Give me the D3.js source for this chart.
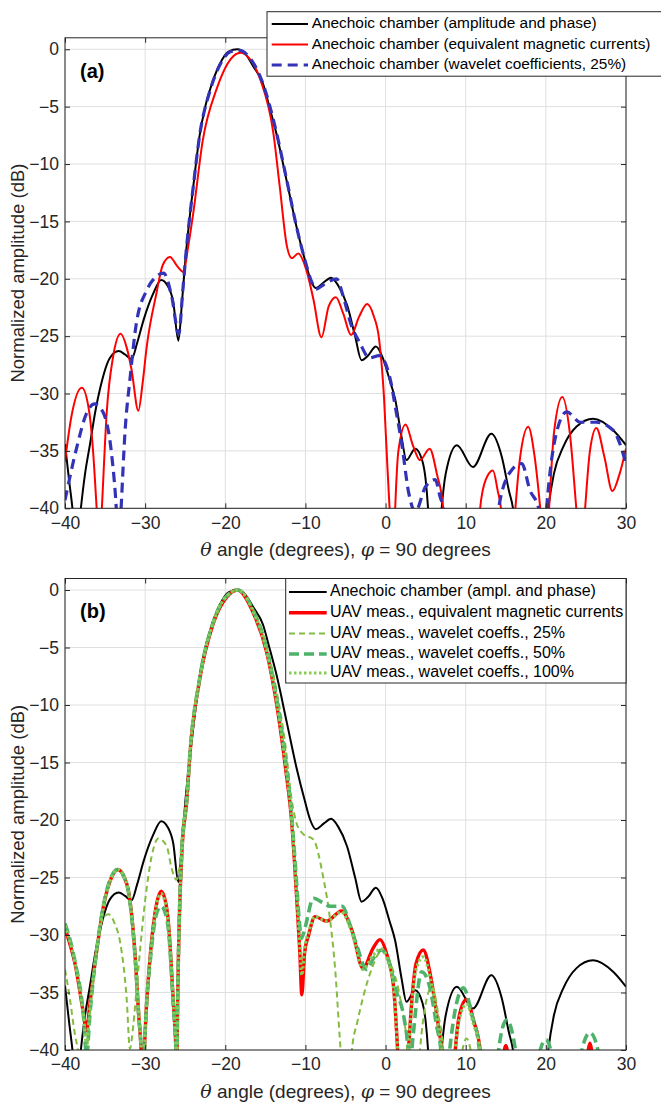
<!DOCTYPE html>
<html>
<head>
<meta charset="utf-8">
<script src="https://cdn.jsdelivr.net/npm/d3@7"></script>
<style>
  body { margin: 0; background: white; }
  svg { display: block; font-family: "Liberation Sans", Arial, sans-serif; }
</style>
</head>
<body>
<script>
// tick labels
var xTicks = [-40, -30, -20, -10, 0, 10, 20, 30]
var yTicks = [0, -5, -10, -15, -20, -25, -30, -35, -40]

// anechoic chamber, amplitude and phase (same curve in both panels)
var chamberAP = [[-40,-34.4],[-39.5,-37.5],[-39.0,-40.5],[-38.6,-44],[-38.1,-40.5],[-37.5,-37],[-36.9,-34.5],
  [-36.2,-31.5],[-35.6,-29.5],[-34.4,-26.9],[-33.3,-26.3],[-32.5,-26.6],[-31.7,-27.0],[-31.0,-25.6],[-30.2,-23.6],
  [-29.0,-21.3],[-28.0,-20.1],[-27.2,-20.6],[-26.5,-22.0],[-25.85,-25.4],[-25.4,-22],[-25.0,-18.5],[-24.5,-15],
  [-24.0,-12.0],[-23.2,-7.5],[-22.5,-5.0],[-21.9,-3.5],[-20.7,-1.3],[-19.6,-0.2],[-18.5,0],[-17.5,-0.4],
  [-16.5,-1.5],[-15.3,-3.0],[-14.5,-5.0],[-13.6,-7.4],[-12.3,-11.6],[-11.1,-15.5],[-10.05,-18.4],[-9.4,-20.0],
  [-8.7,-20.8],[-7.7,-20.3],[-6.8,-19.9],[-5.9,-20.6],[-4.8,-22.3],[-3.8,-25.0],[-3.0,-27.1],[-2.2,-26.7],
  [-1.2,-25.9],[-0.4,-26.8],[0.5,-28.8],[1.2,-30.5],[2.0,-33.8],[2.6,-35.8],[3.7,-34.8],[4.6,-35.9],[5.0,-37.5],
  [5.3,-40],[5.6,-44],[6.6,-44],[7.0,-40],[7.5,-37],[8.9,-34.5],[10.9,-36.4],[13.2,-33.5],[14.5,-35.5],
  [15.4,-38.5],[15.9,-40],[16.5,-44],[19.7,-44],[20.3,-40],[21.0,-37],[22.2,-34.6],[23.8,-32.9],[25.9,-32.2],
  [28.4,-33.2],[30,-34.5]]

// anechoic chamber, equivalent magnetic currents
var chamberEMC = [[-40,-35.9],[-39.2,-32],[-37.9,-29.5],[-37.0,-31.5],[-36.5,-35],[-36.05,-40],[-35.7,-44],
  [-35.4,-40],[-34.8,-31.7],[-34.0,-26.8],[-33.05,-24.8],[-32.3,-26.0],[-31.7,-27.9],[-30.85,-31.5],[-30.3,-29],
  [-29.8,-25.9],[-28.6,-21.3],[-27.8,-18.8],[-26.9,-18.1],[-26.0,-18.9],[-25.2,-19.4],[-24.7,-17.5],[-24.0,-14.3],
  [-22.8,-7.9],[-21.1,-3.5],[-19.0,-0.6],[-18.1,-0.3],[-17,-0.8],[-15.6,-2.7],[-14.0,-7.3],[-13.2,-12.0],
  [-12.3,-17.2],[-11.7,-18.2],[-10.9,-17.8],[-9.9,-19.2],[-9.0,-21.8],[-8.0,-25.1],[-7.1,-22.4],[-6.2,-21.6],
  [-5.3,-23.0],[-4.3,-24.9],[-3.3,-23.3],[-2.3,-22.2],[-1.5,-23.2],[-0.8,-25.3],[-0.2,-30.3],[0.2,-36],[0.5,-40],
  [0.8,-44],[1.0,-44],[1.2,-40],[1.6,-35],[2.5,-32.7],[3.4,-34.5],[4.3,-35.8],[5.5,-34.8],[6.4,-37],[7.2,-40],
  [7.6,-44],[11.4,-44],[11.8,-40],[12.5,-37.5],[13.4,-36.7],[14.0,-38.5],[14.4,-40],[14.8,-44],[15.8,-44],
  [16.2,-40],[16.8,-35.5],[17.8,-32.9],[18.6,-35.5],[19.3,-40],[19.8,-44],[20.0,-44],[20.4,-40],[21.0,-33.5],
  [22.05,-30.3],[23.0,-33.5],[23.8,-40],[24.3,-44],[24.5,-44],[24.9,-40],[25.5,-35],[26.3,-33.0],[27.3,-35.5],
  [28.3,-38.5],[29.2,-37],[30,-34.8]]

// anechoic chamber, wavelet coefficients 25%
var chamberWav = [[-40,-39.3],[-38.5,-34.6],[-37.3,-31.7],[-36.3,-30.9],[-35.2,-31.7],[-34.2,-35.2],[-33.6,-40],
  [-33.3,-44],[-33.0,-40],[-32.5,-33.2],[-31.9,-28.8],[-31.1,-23.9],[-29.8,-21.0],[-28.6,-19.8],[-27.7,-19.5],
  [-26.7,-21.5],[-25.8,-24.8],[-25.3,-21],[-24.8,-17],[-24.0,-12.0],[-23.2,-7.5],[-21.9,-3.6],[-20.7,-1.4],
  [-19.3,-0.2],[-18.2,-0.1],[-17.0,-0.7],[-15.3,-3.0],[-13.6,-7.3],[-12.3,-11.5],[-11.1,-15.5],[-10.05,-18.4],
  [-9.2,-20.3],[-8.7,-20.9],[-7.7,-20.5],[-6.1,-20.0],[-5.3,-21.5],[-4.3,-24.0],[-3.2,-25.6],[-2.0,-26.9],
  [-0.8,-26.7],[0.6,-28.8],[1.2,-31.1],[2.0,-34.3],[2.9,-38.7],[3.7,-40.3],[5.0,-38.1],[6.2,-37.5],[6.8,-39],
  [7.2,-40],[7.6,-44],[13.6,-44],[14.1,-40],[15.7,-36.7],[17.0,-36.1],[18.0,-38.4],[19.1,-40],[19.5,-44],
  [19.7,-44],[20.1,-40],[21.4,-33.2],[22.6,-31.6],[24.3,-32.5],[26.3,-32.5],[28.4,-33.2],[30,-36.1]]

// UAV measurement, equivalent magnetic currents
var uavEMC = [[-40,-29.4],[-39.3,-31],[-38.75,-32.5],[-37.7,-36.8],[-37.3,-38.3],[-36.9,-36],[-36.05,-31.4],
  [-35.2,-27.5],[-34.2,-25.0],[-33.4,-24.3],[-32.6,-25.0],[-32.1,-26.1],[-31.3,-31.3],[-30.8,-37],[-30.5,-40],
  [-30.3,-44],[-30.1,-40],[-29.9,-37],[-29.3,-31.3],[-28.6,-27.4],[-28.0,-26.2],[-27.4,-27.3],[-27.1,-28.9],
  [-26.5,-35.6],[-26.15,-40],[-26.05,-42],[-25.95,-36],[-25.85,-32],[-25.4,-22.6],[-24.8,-18.3],[-24.4,-14.2],
  [-23.2,-7.8],[-21.5,-2.9],[-19.8,-0.6],[-18.5,0],[-16.5,-2.0],[-14.8,-5.5],[-13.6,-9.9],[-12.5,-15.4],
  [-11.7,-20.3],[-11.1,-26.7],[-10.7,-31.5],[-10.45,-35.2],[-10.1,-31.5],[-9.6,-30.0],[-8.8,-28.4],[-7.35,-28.8],
  [-5.5,-27.9],[-4.2,-29.6],[-2.8,-32.9],[-1.6,-31.2],[-0.7,-30.4],[0.2,-31.8],[1.0,-34.5],[1.3,-37.5],[1.5,-40],
  [1.9,-44],[2.4,-44],[2.85,-40],[3.3,-35.5],[3.8,-32.5],[4.7,-31.3],[5.6,-33.5],[6.5,-37.5],[7.0,-40],[7.4,-44],
  [8.3,-44],[8.7,-40],[9.2,-37],[10.1,-35.6],[11.0,-37.5],[11.8,-40],[12.2,-44],[14.4,-44],[14.7,-40.5],
  [15.0,-39.6],[15.3,-40.5],[15.6,-44],[25.0,-44],[25.2,-40.5],[25.5,-39.4],[25.8,-40.5],[26.0,-44],[30,-44]]

// UAV measurement, wavelet coefficients 25%
var uavWav25 = [[-40,-33.0],[-39.4,-35.5],[-38.8,-38.5],[-38.3,-40.5],[-37.9,-44],[-37.3,-40.5],[-36.9,-37],
  [-36.2,-32],[-35.4,-28.8],[-34.6,-28.2],[-33.8,-29],[-33.1,-30.7],[-32.3,-35.6],[-31.9,-39.9],[-31.5,-38],
  [-31.05,-34.5],[-30.0,-27],[-29.2,-23.2],[-28.35,-21.6],[-27.3,-22.3],[-26.7,-24.2],[-26.1,-25.2],[-25.7,-24],
  [-25.4,-21.1],[-24.8,-18.0],[-24.4,-14.0],[-23.2,-7.6],[-21.5,-2.8],[-19.8,-0.5],[-18.4,0],[-16.5,-1.7],
  [-14.8,-5.0],[-13.6,-8.8],[-12.5,-13.5],[-11.7,-18.3],[-11.1,-20.3],[-10.3,-21.2],[-9.0,-21.7],[-7.8,-24.9],
  [-6.9,-28.8],[-6.3,-32.9],[-5.7,-39.1],[-5.5,-41],[-5.0,-44],[-4.6,-44],[-4.2,-40],[-3.5,-37.5],[-2.8,-35.4],
  [-1.7,-32.9],[-0.4,-31.3],[0.8,-32.8],[1.9,-35.8],[2.7,-40],[3.0,-44],[3.9,-44],[4.3,-40],[5.0,-36],
  [5.8,-34.5],[6.6,-37],[7.2,-40],[7.5,-44],[9.3,-44],[9.6,-40],[10.1,-39],[10.6,-40],[10.9,-44],[30,-44]]

// UAV measurement, wavelet coefficients 50%
var uavWav50 = [[-40,-29.0],[-39.3,-30.6],[-38.75,-32.3],[-37.7,-37],[-37.3,-40.5],[-36.9,-37],[-36.05,-31.3],
  [-35.2,-27.4],[-34.2,-24.9],[-33.4,-24.3],[-32.6,-25.0],[-32.1,-26.2],[-31.3,-31.5],[-30.8,-37],[-30.5,-40],
  [-30.3,-44],[-30.1,-40],[-29.9,-37],[-29.3,-31.8],[-28.6,-28.2],[-28.0,-27.5],[-27.4,-28.3],[-27.1,-29.5],
  [-26.5,-36],[-26.15,-40],[-26.05,-42],[-25.95,-36],[-25.85,-32],[-25.4,-22.4],[-24.8,-18.2],[-24.4,-14.1],
  [-23.2,-7.7],[-21.5,-2.8],[-19.8,-0.5],[-18.4,0],[-16.5,-1.8],[-14.8,-5.2],[-13.6,-9.4],[-12.5,-14.6],
  [-11.8,-19],[-11.2,-24.5],[-10.8,-28.5],[-10.5,-30.3],[-10.1,-29.5],[-9.0,-26.8],[-7.8,-27.2],[-6.9,-27.5],
  [-5.4,-27.5],[-4.5,-29],[-3.6,-30.9],[-2.35,-33.0],[-1.5,-32.0],[-0.5,-31.3],[0.5,-32.5],[1.3,-34.8],
  [2.2,-36.8],[2.6,-38.5],[2.9,-40],[3.1,-41],[3.4,-39],[4.5,-33.2],[5.5,-34.5],[6.4,-38],[6.9,-40],[7.3,-44],
  [7.6,-44],[8.0,-40],[9.7,-34.6],[10.8,-37],[11.7,-40],[12.1,-44],[13.7,-44],[14.1,-40],[15.1,-37.4],
  [16.2,-40],[16.6,-44],[18.9,-44],[19.3,-40],[20,-39.1],[20.6,-40],[21.0,-44],[24.1,-44],[24.5,-40],
  [25.5,-38.5],[26.5,-40],[26.9,-44],[30,-44]]

// UAV measurement, wavelet coefficients 100%
var uavWav100 = [[-40,-29.2],[-39.3,-30.8],[-38.75,-32.4],[-37.7,-37],[-37.3,-39.5],[-36.9,-36.5],[-36.05,-31.4],
  [-35.2,-27.5],[-34.2,-25.0],[-33.4,-24.3],[-32.6,-25.0],[-32.1,-26.1],[-31.3,-31.3],[-30.8,-37],[-30.5,-40],
  [-30.3,-44],[-30.1,-40],[-29.9,-37],[-29.3,-31.4],[-28.6,-27.5],[-28.0,-26.4],[-27.4,-27.5],[-27.1,-29.0],
  [-26.5,-35.6],[-26.15,-40],[-26.05,-42],[-25.95,-36],[-25.85,-32],[-25.4,-22.5],[-24.8,-18.2],[-24.4,-14.1],
  [-23.2,-7.7],[-21.5,-2.8],[-19.8,-0.5],[-18.4,0],[-16.5,-1.9],[-14.8,-5.4],[-13.6,-9.7],[-12.5,-15.1],
  [-11.7,-20.0],[-11.1,-26.3],[-10.7,-31.0],[-10.45,-33.5],[-10.1,-31.2],[-9.6,-29.8],[-8.8,-28.4],
  [-7.35,-28.8],[-5.5,-28.0],[-4.2,-29.8],[-2.8,-33.0],[-1.6,-31.8],[-0.6,-31.2],[0.3,-32.3],[1.0,-34.5],
  [1.3,-37.5],[1.5,-40],[1.9,-44],[2.4,-44],[2.85,-40],[3.3,-35.8],[3.8,-33],[4.7,-31.9],[5.6,-33.8],
  [6.5,-37.5],[7.0,-40],[7.4,-44],[8.3,-44],[8.7,-40],[9.2,-37.3],[10.1,-36.0],[11.0,-37.8],[11.8,-40],
  [12.2,-44],[30,-44]]

var legendA = ["Anechoic chamber (amplitude and phase)",
  "Anechoic chamber (equivalent magnetic currents)",
  "Anechoic chamber (wavelet coefficients, 25%)"]
var legendB = ["Anechoic chamber (ampl. and phase)",
  "UAV meas., equivalent magnetic currents",
  "UAV meas., wavelet coeffs., 25%",
  "UAV meas., wavelet coeffs., 50%",
  "UAV meas., wavelet coeffs., 100%"]

var axisColor = "#262626"
var svg = d3.select("body").append("svg").attr("width", 661).attr("height", 1107)

var styles = {
  black: {color: "#000000", width: 2, dash: null},
  redThin: {color: "#ff0000", width: 2, dash: null},
  blue: {color: "#3333b8", width: 3.2, dash: "10,6"},
  red: {color: "#ff0000", width: 3.4, dash: null},
  g25: {color: "#84bc42", width: 2, dash: "6,4"},
  g50: {color: "#4db36a", width: 3.6, dash: "10,5"},
  g100: {color: "#88cc55", width: 3.2, dash: "2.5,2.5"}
}

drawPanel({id: "a", left: 65, right: 626, top: 37.8, bottom: 508.3, tag: "(a)",
  series: [[chamberAP, styles.black], [chamberEMC, styles.redThin], [chamberWav, styles.blue]],
  legend: {x: 267, y: 11.7, w: 400, h: 64.5, rows: [24, 44.5, 65], lineX: [271.7, 308], textX: 311.7, fontSize: 15.4,
    labels: legendA, styles: [styles.black, styles.redThin, styles.blue]},
  xLabelY: 551})

drawPanel({id: "b", left: 65, right: 626, top: 578.5, bottom: 1050, tag: "(b)",
  series: [[chamberAP, styles.black], [uavEMC, styles.red], [uavWav25, styles.g25], [uavWav50, styles.g50], [uavWav100, styles.g100]],
  legend: {x: 285.7, y: 578.5, w: 340.3, h: 104.5, rows: [592, 612.7, 633.5, 654, 673], lineX: [289, 326.7], textX: 330, fontSize: 16,
    labels: legendB, styles: [styles.black, styles.red, styles.g25, styles.g50, styles.g100]},
  xLabelY: 1093})

function drawPanel(p) {
  var x = d3.scaleLinear().domain([-40, 30]).range([p.left, p.right])
  var y = d3.scaleLinear().domain([-40, 1]).range([p.bottom, p.top])
  var g = svg.append("g")

  // grid
  g.selectAll(".gx").data(xTicks).enter().append("line")
    .attr("x1", d => x(d)).attr("x2", d => x(d)).attr("y1", p.top).attr("y2", p.bottom)
    .attr("stroke", "#dfdfdf").attr("stroke-width", 1)
  g.selectAll(".gy").data(yTicks).enter().append("line")
    .attr("y1", d => y(d)).attr("y2", d => y(d)).attr("x1", p.left).attr("x2", p.right)
    .attr("stroke", "#dfdfdf").attr("stroke-width", 1)

  // curves
  svg.append("clipPath").attr("id", "clip-" + p.id).append("rect")
    .attr("x", p.left).attr("y", p.top).attr("width", p.right - p.left).attr("height", p.bottom - p.top)
  var line = d3.line().x(d => x(d[0])).y(d => y(d[1])).curve(d3.curveMonotoneX)
  var cg = g.append("g").attr("clip-path", "url(#clip-" + p.id + ")")
  p.series.forEach(function(s) {
    cg.append("path").attr("d", line(s[0])).attr("fill", "none")
      .attr("stroke", s[1].color).attr("stroke-width", s[1].width)
      .attr("stroke-dasharray", s[1].dash)
  })

  // frame with inner ticks on all sides
  g.append("rect").attr("x", p.left).attr("y", p.top).attr("width", p.right - p.left).attr("height", p.bottom - p.top)
    .attr("fill", "none").attr("stroke", axisColor).attr("stroke-width", 1)
  var bottomAxis = d3.axisBottom(x).tickValues(xTicks).tickSizeInner(-5).tickSizeOuter(0).tickPadding(8)
  var leftAxis = d3.axisLeft(y).tickValues(yTicks).tickSizeInner(-5).tickSizeOuter(0).tickPadding(6)
  var ax = g.append("g").attr("transform", "translate(0," + p.bottom + ")").call(bottomAxis)
  var ay = g.append("g").attr("transform", "translate(" + p.left + ",0)").call(leftAxis)
  g.append("g").attr("transform", "translate(0," + p.top + ")")
    .call(d3.axisTop(x).tickValues(xTicks).tickSizeInner(-5).tickSizeOuter(0).tickFormat(""))
  g.append("g").attr("transform", "translate(" + p.right + ",0)")
    .call(d3.axisRight(y).tickValues(yTicks).tickSizeInner(-5).tickSizeOuter(0).tickFormat(""))
  g.selectAll(".domain").remove()
  g.selectAll(".tick line").attr("stroke", axisColor)
  ax.selectAll("text").attr("font-size", 17.5).attr("fill", axisColor)
  ay.selectAll("text").attr("font-size", 17.5).attr("fill", axisColor)

  // axis labels
  var xl = g.append("text").attr("x", (p.left + p.right) / 2).attr("y", p.xLabelY)
    .attr("text-anchor", "middle").attr("dominant-baseline", "middle")
    .attr("font-size", 19).attr("fill", axisColor)
  xl.append("tspan").attr("font-style", "italic").attr("font-family", "'DejaVu Serif', serif").text("\u03b8")
  xl.append("tspan").text(" angle (degrees), ")
  xl.append("tspan").attr("font-style", "italic").attr("font-family", "'DejaVu Serif', serif").text("\u03c6")
  xl.append("tspan").text(" = 90 degrees")
  var cy = (p.top + p.bottom) / 2
  g.append("text").attr("transform", "translate(19," + cy + ") rotate(-90)")
    .attr("text-anchor", "middle").attr("dominant-baseline", "middle")
    .attr("font-size", 18.5).attr("fill", axisColor).text("Normalized amplitude (dB)")

  g.append("text").attr("x", 80).attr("y", y(0) + 23).attr("dominant-baseline", "middle")
    .attr("font-size", 20).attr("font-weight", "bold").attr("fill", "#000").text(p.tag)

  // legend
  var L = p.legend
  var lg = g.append("g")
  lg.append("rect").attr("x", L.x).attr("y", L.y).attr("width", L.w).attr("height", L.h)
    .attr("fill", "white").attr("stroke", axisColor).attr("stroke-width", 1)
  L.labels.forEach(function(lab, i) {
    var st = L.styles[i]
    lg.append("line").attr("x1", L.lineX[0]).attr("x2", L.lineX[1]).attr("y1", L.rows[i]).attr("y2", L.rows[i])
      .attr("stroke", st.color).attr("stroke-width", st.width).attr("stroke-dasharray", st.dash)
    lg.append("text").attr("x", L.textX).attr("y", L.rows[i]).attr("dominant-baseline", "middle")
      .attr("font-size", L.fontSize).attr("fill", "#000").text(lab)
  })
}
</script>
</body>
</html>
